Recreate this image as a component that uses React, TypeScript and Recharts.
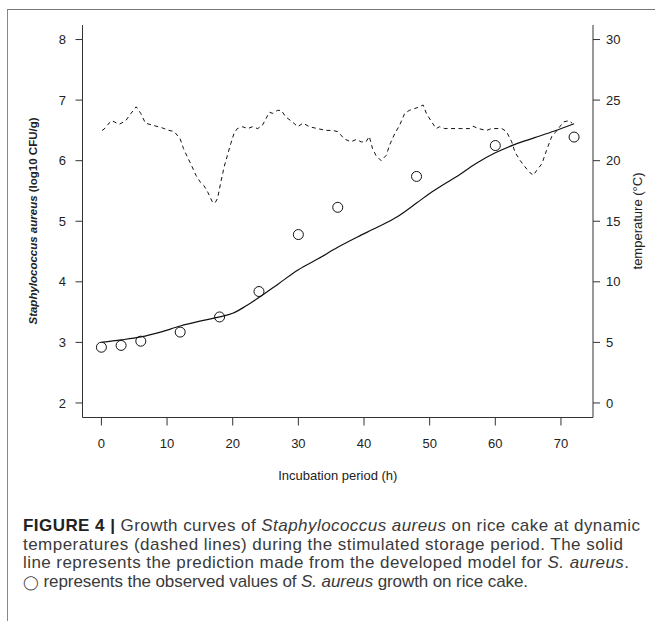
import React from 'react';
import { ComposedChart, Line, Scatter, XAxis, YAxis } from 'recharts';

// ---- axis ticks ----
const xTicks = [0, 10, 20, 30, 40, 50, 60, 70];
const leftTicks = [2, 3, 4, 5, 6, 7, 8];
const rightTicks = [0, 5, 10, 15, 20, 25, 30];

// ---- observed S. aureus counts (log10 CFU/g) ----
const obsTimes = [0, 3, 6, 12, 18, 24, 30, 36, 48, 60, 72];
const obsLog = [2.92, 2.95, 3.02, 3.17, 3.42, 3.84, 4.78, 5.23, 5.74, 6.25, 6.39];

// ---- model prediction (log10 CFU/g) ----
const predTimes = [0, 3, 6, 9, 12, 15, 18, 20, 22, 24, 27, 30, 33, 36, 39, 42, 45, 48, 50, 52, 54, 57, 60, 63, 66, 69, 72];
const predLog = [3.0, 3.04, 3.09, 3.17, 3.27, 3.35, 3.42, 3.48, 3.6, 3.74, 3.97, 4.2, 4.38, 4.57, 4.74, 4.9, 5.07, 5.3, 5.46, 5.6, 5.73, 5.95, 6.13, 6.27, 6.38, 6.49, 6.61];

// ---- storage temperature (°C) ----
const tempTimes = [0.1, 0.4, 1.0, 1.6, 2.7, 3.7, 4.5, 5.3, 6.0, 6.7, 8.0, 9.3, 10.3, 11.1, 12.0, 12.5, 13.1, 13.6, 14.4, 15.1, 15.6, 16.2, 16.9, 17.3, 17.7, 18.2, 18.7, 19.2, 19.7, 20.2, 20.7, 21.5, 22.3, 23.0, 23.8, 24.5, 25.1, 25.6, 26.1, 26.8, 27.4, 28.1, 29.1, 29.9, 30.7, 31.7, 32.9, 34.2, 35.2, 36.0, 37.0, 38.0, 38.8, 39.6, 40.3, 40.8, 41.3, 41.8, 42.6, 43.4, 43.9, 44.7, 45.4, 46.2, 46.9, 47.7, 48.5, 49.0, 49.5, 50.3, 51.0, 51.5, 52.3, 53.1, 54.8, 56.1, 56.6, 57.4, 58.7, 59.4, 61.0, 61.7, 62.5, 63.0, 63.8, 64.5, 65.3, 65.8, 66.3, 67.1, 67.8, 68.6, 69.1, 69.6, 70.4, 71.2, 71.7];
const tempC = [22.5, 22.6, 23.0, 23.3, 23.0, 23.3, 23.9, 24.45, 23.9, 23.1, 22.9, 22.7, 22.5, 22.4, 21.8, 21.0, 20.3, 19.75, 18.8, 18.2, 17.95, 17.4, 16.6, 16.5, 16.9, 18.25, 19.5, 20.45, 21.4, 22.25, 22.65, 22.8, 22.65, 22.8, 22.65, 22.9, 23.5, 24.0, 23.9, 24.15, 24.15, 23.6, 23.2, 22.8, 23.1, 22.8, 22.65, 22.5, 22.5, 22.4, 21.8, 21.55, 21.75, 21.55, 21.55, 22.0, 21.0, 20.45, 20.0, 20.45, 21.3, 22.25, 22.9, 23.9, 24.15, 24.3, 24.45, 24.6, 23.9, 23.2, 22.65, 22.8, 22.65, 22.65, 22.65, 22.65, 22.85, 22.65, 22.5, 22.65, 22.65, 22.4, 21.55, 20.7, 20.0, 19.5, 19.0, 18.8, 19.2, 19.75, 20.85, 22.0, 22.3, 22.65, 23.2, 23.3, 23.1];

const obsData = obsTimes.map((x, i) => ({ x, y: obsLog[i] }));
const predData = predTimes.map((x, i) => ({ x, y: predLog[i] }));
const tempData = tempTimes.map((x, i) => ({ x, y: tempC[i] }));

const FONT = '"Liberation Sans", Arial, Helvetica, sans-serif';
const AXIS = '#333';

const AxisTitle = (p: any) => {
  const { kind } = p;
  if (kind === 'bottom') {
    return (
      <text x={337.75} y={475.7} textAnchor="middle" dominantBaseline="central" fontSize={13} fill="#222" fontFamily={FONT}>
        Incubation period (h)
      </text>
    );
  }
  if (kind === 'left') {
    return (
      <text x={33} y={221} transform="rotate(-90, 33, 221)" textAnchor="middle" dominantBaseline="central" fontSize={11.5} fontWeight="bold" fill="#222" fontFamily={FONT}>
        <tspan fontStyle="italic">Staphylococcus aureus</tspan> (log10 CFU/g)
      </text>
    );
  }
  return (
    <text x={637} y={221} transform="rotate(-90, 637, 221)" textAnchor="middle" dominantBaseline="central" fontSize={13} fill="#222" fontFamily={FONT}>
      temperature (°C)
    </text>
  );
};

const Ring = (p: any) => <circle cx={p.cx} cy={p.cy} r={5} fill="none" stroke="#111" strokeWidth={1} />;

const captionLines = [
  { y: 531, len: 617 },
  { y: 549.6, len: 600 },
  { y: 568.2, len: 606 },
  { y: 586.8, len: 505 },
];

export default function App() {
  const tickStyle = { fill: '#222', fontSize: 13, fontFamily: FONT };
  const capProps = { fontSize: 17, fill: '#3a3a3a', fontFamily: FONT, lengthAdjust: 'spacing' as const };
  return (
    <div style={{ position: 'absolute', top: 0, left: 0, width: 655, height: 621, background: '#fff', overflow: 'hidden' }}>
      <div style={{ position: 'absolute', top: 9, left: 7, width: 660, height: 620, borderTop: '1.5px solid #777', borderLeft: '1.5px solid #888' }} />
      <div style={{ position: 'absolute', top: 0, left: 0 }}>
        <ComposedChart width={655} height={621} margin={{ top: 25, right: 12, bottom: 173.5, left: 22.5 }}>
          <XAxis
            xAxisId="b"
            dataKey="x"
            type="number"
            domain={[-2.88, 74.88]}
            ticks={xTicks}
            allowDataOverflow
            height={30}
            tickSize={8}
            tickMargin={13}
            axisLine={{ stroke: AXIS, strokeWidth: 1 }}
            tickLine={{ stroke: AXIS, strokeWidth: 1 }}
            tick={tickStyle}
            label={<AxisTitle kind="bottom" />}
          />
          <XAxis
            xAxisId="t"
            orientation="top"
            dataKey="x"
            type="number"
            domain={[-2.88, 74.88]}
            allowDataOverflow
            height={0}
            tick={false}
            tickLine={false}
            axisLine={{ stroke: AXIS, strokeWidth: 1 }}
          />
          <YAxis
            yAxisId="l"
            type="number"
            domain={[1.76, 8.24]}
            ticks={leftTicks}
            allowDataOverflow
            width={60}
            tickSize={7}
            tickMargin={9.5}
            axisLine={{ stroke: AXIS, strokeWidth: 1 }}
            tickLine={{ stroke: AXIS, strokeWidth: 1 }}
            tick={tickStyle}
            label={<AxisTitle kind="left" />}
          />
          <YAxis
            yAxisId="r"
            orientation="right"
            type="number"
            domain={[-1.2, 31.2]}
            ticks={rightTicks}
            allowDataOverflow
            width={50}
            tickSize={7}
            tickMargin={6}
            axisLine={{ stroke: AXIS, strokeWidth: 1 }}
            tickLine={{ stroke: AXIS, strokeWidth: 1 }}
            tick={tickStyle}
            label={<AxisTitle kind="right" />}
          />
          <Line
            xAxisId="b"
            yAxisId="r"
            data={tempData}
            dataKey="y"
            type="linear"
            dot={false}
            stroke="#111"
            strokeWidth={1}
            strokeDasharray="4 3.5"
            isAnimationActive={false}
          />
          <Line
            xAxisId="b"
            yAxisId="l"
            data={predData}
            dataKey="y"
            type="monotone"
            dot={false}
            stroke="#111"
            strokeWidth={1.2}
            isAnimationActive={false}
          />
          <Scatter
            xAxisId="b"
            yAxisId="l"
            data={obsData}
            dataKey="y"
            shape={Ring}
            isAnimationActive={false}
          />
        </ComposedChart>
      </div>
      <svg width={655} height={621} style={{ position: 'absolute', top: 0, left: 0, pointerEvents: 'none' }}>
        <text x={23} y={captionLines[0].y} textLength={captionLines[0].len} {...capProps}>
          <tspan fontWeight="bold" fill="#222">FIGURE 4 |</tspan> Growth curves of <tspan fontStyle="italic">Staphylococcus aureus</tspan> on rice cake at dynamic
        </text>
        <text x={23} y={captionLines[1].y} textLength={captionLines[1].len} {...capProps}>
          temperatures (dashed lines) during the stimulated storage period.  The solid
        </text>
        <text x={23} y={captionLines[2].y} textLength={captionLines[2].len} {...capProps}>
          line represents the prediction made from the developed model for <tspan fontStyle="italic">S. aureus</tspan>.
        </text>
        <text x={23} y={captionLines[3].y} textLength={captionLines[3].len} {...capProps}>
          <tspan fontSize={14}>◯</tspan> represents the observed values of <tspan fontStyle="italic">S. aureus</tspan> growth on rice cake.
        </text>
      </svg>
    </div>
  );
}
